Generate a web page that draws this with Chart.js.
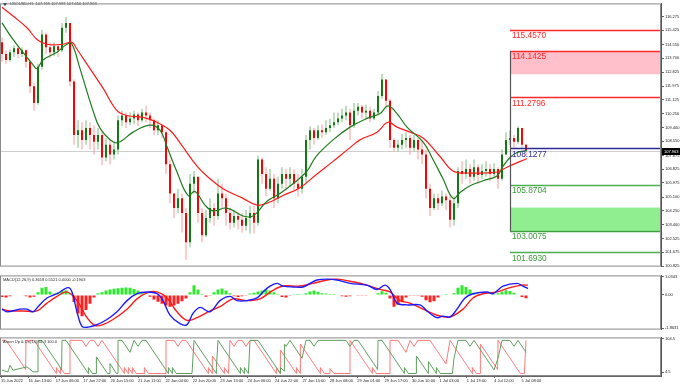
<!DOCTYPE html>
<html>
<head>
<meta charset="utf-8">
<script src="https://cdn.jsdelivr.net/npm/chart.js@4/dist/chart.umd.min.js"></script>
<style>
body { margin: 0; background: #fff; width: 680px; height: 385px; overflow: hidden; position: relative; }
.pane { position: absolute; left: 0; width: 680px; }
</style>
</head>
<body>
<div class="pane" style="top:0;height:270px"><canvas id="main"></canvas></div>
<div class="pane" style="top:272px;height:61px"><canvas id="macd"></canvas></div>
<div class="pane" style="top:334px;height:51px"><canvas id="aroon"></canvas></div>
<script>
// ---- price bars (H1, one entry per drawn bar) ----
const firstOpen = 114.68;
const closes = [
  113.95, 113.59, 114.07, 114.31, 113.95, 114.19, 113.47, 111.96, 110.93, 113.17,
  115.16, 114.37, 114.07, 114.43, 114.19, 115.58, 115.88, 112.26, 108.94, 109.24,
  108.64, 109.37, 108.94, 108.52, 108.94, 107.55, 108.34, 107.74, 108.04, 109.85,
  110.15, 109.73, 109.97, 110.21, 109.85, 110.33, 110.15, 109.85, 109.24, 109.55,
  109.12, 107.13, 105.32, 104.42, 105.02, 104.11, 102.30, 105.92, 106.35, 104.11,
  102.73, 103.81, 104.42, 103.93, 105.32, 105.02, 104.11, 103.51, 103.93, 103.69,
  103.33, 103.81, 104.11, 103.51, 107.43, 106.53, 105.62, 106.23, 105.02, 105.92,
  106.53, 106.23, 106.53, 105.92, 105.62, 106.35, 108.64, 109.24, 108.76, 109.24,
  109.12, 109.37, 109.55, 109.73, 109.97, 110.15, 110.33, 109.55, 110.45, 110.69,
  110.33, 110.45, 109.97, 110.33, 111.36, 112.38, 111.06, 108.64, 108.16, 108.34,
  108.64, 108.76, 108.16, 108.64, 108.04, 107.74, 105.62, 104.42, 105.02, 104.72,
  105.14, 104.90, 103.69, 104.72, 106.71, 106.53, 106.83, 106.35, 106.95, 106.47,
  106.71, 106.83, 106.53, 106.83, 106.23, 107.74, 108.64, 108.76, 108.52, 109.37,
  108.34, 107.963
];
const highs = [
  114.98, 114.19, 114.25, 114.50, 114.43, 114.37, 114.25, 113.59, 112.14, 113.35,
  115.46, 115.28, 114.68, 114.68, 114.56, 115.88, 116.25, 115.88, 112.38, 109.85,
  109.73, 109.85, 109.73, 109.55, 109.37, 109.12, 108.76, 108.64, 108.52, 110.15,
  110.45, 110.33, 110.33, 110.45, 110.33, 110.57, 110.75, 110.33, 109.97, 109.85,
  109.61, 109.24, 107.43, 105.32, 105.62, 105.32, 104.42, 106.53, 106.71, 106.23,
  104.42, 104.30, 105.02, 104.72, 106.23, 105.92, 105.32, 104.42, 104.30, 104.17,
  104.11, 104.30, 104.54, 104.54, 107.68, 107.55, 106.95, 106.83, 106.53, 106.35,
  106.95, 106.83, 106.95, 106.83, 106.53, 106.83, 108.94, 109.49, 109.37, 109.55,
  109.61, 109.85, 109.97, 110.33, 110.33, 110.57, 110.75, 110.57, 110.93, 110.93,
  110.81, 110.81, 110.69, 110.57, 111.66, 112.74, 112.38, 111.18, 108.76, 108.64,
  109.00, 109.12, 108.94, 108.94, 108.76, 108.64, 108.04, 105.92, 105.32, 105.32,
  105.50, 105.32, 105.14, 105.14, 106.95, 107.31, 107.43, 107.13, 107.43, 107.13,
  107.13, 107.31, 107.13, 107.19, 106.95, 108.04, 109.12, 109.24, 108.94, 109.49,
  109.37, 108.40
];
const lows = [
  113.47, 113.35, 113.47, 113.77, 113.71, 113.77, 113.11, 111.54, 110.45, 110.81,
  112.99, 113.95, 113.71, 113.83, 113.77, 114.07, 115.28, 111.96, 108.34, 108.16,
  108.04, 108.34, 108.04, 107.74, 108.04, 107.07, 107.31, 107.13, 107.43, 107.74,
  109.49, 109.37, 109.55, 109.61, 109.49, 109.73, 109.73, 109.37, 108.94, 108.94,
  108.76, 106.53, 104.72, 103.81, 104.11, 102.91, 101.22, 102.00, 105.32, 103.51,
  102.30, 102.61, 103.51, 103.33, 103.69, 104.42, 103.33, 103.09, 103.21, 103.09,
  102.91, 103.03, 102.85, 102.85, 103.33, 105.92, 105.14, 105.50, 104.42, 104.72,
  105.62, 105.50, 105.74, 105.50, 105.14, 105.32, 105.92, 108.04, 108.34, 108.64,
  108.76, 108.94, 109.12, 109.37, 109.55, 109.73, 109.85, 108.64, 109.37, 110.15,
  109.97, 109.97, 109.73, 109.85, 110.15, 111.18, 110.57, 108.16, 107.92, 107.92,
  108.04, 108.16, 107.74, 107.92, 107.43, 107.13, 105.02, 103.93, 104.30, 104.30,
  104.54, 104.30, 103.21, 103.33, 104.42, 105.92, 106.23, 105.92, 106.11, 105.92,
  106.23, 106.35, 106.11, 106.35, 105.62, 106.11, 107.70, 108.34, 108.16, 108.40,
  108.16, 107.65
];

// moving averages (bar position, price)
const maFastBars = [0, 2.75, 7.75, 8.75, 10.25, 13.75, 16.25, 17.5, 19.5, 22.75, 24.5, 27.75, 29.5, 32.75, 37, 39.5, 41.25, 43.75, 46.5, 48.25, 50.75, 52.75, 56.25, 60.25, 62.75, 66.25, 69.5, 72.75, 76.25, 78.5, 82.75, 87, 91.25, 94.5, 96.5, 98.75, 101.25, 105.25, 107.75, 110.25, 112.75, 114.5, 117, 120.25, 123.75, 125.25, 127, 128.75, 131.25];
const maFast = [115.88, 114.86, 113.29, 113.05, 113.59, 114.07, 114.56, 114.56, 113.05, 110.45, 109.37, 108.52, 108.52, 109.12, 109.55, 109.24, 108.22, 106.65, 105.20, 105.44, 104.60, 104.24, 104.42, 103.93, 103.93, 104.84, 105.32, 105.92, 106.71, 107.61, 108.64, 109.43, 109.97, 110.27, 110.75, 110.27, 109.43, 108.52, 107.43, 106.23, 105.02, 105.38, 105.80, 106.11, 106.41, 107.01, 107.55, 107.86, 107.98];
const maSlowBars = [0, 2.75, 6.25, 8.75, 11.25, 15.25, 17.5, 18.75, 22, 25.25, 28.75, 31.25, 35.25, 38.75, 42, 44.5, 48.75, 52, 55.25, 60.25, 63.75, 66.25, 70.25, 74.5, 78.75, 82.75, 87, 89.5, 93.75, 96.5, 98.75, 102, 105.25, 109.5, 112.75, 116.25, 123.75, 126.25, 131.25];
const maSlow = [116.85, 116.31, 115.58, 114.86, 114.56, 114.56, 114.68, 114.25, 113.05, 111.84, 110.45, 110.15, 110.03, 109.73, 109.24, 108.46, 107.01, 106.23, 105.62, 105.02, 104.60, 104.72, 105.20, 105.68, 106.53, 107.31, 108.16, 108.64, 109.12, 109.73, 109.43, 109.12, 108.76, 107.61, 106.71, 106.59, 106.65, 106.95, 107.49];

// drawn levels and zones
const levelPrices = [115.4570, 114.1425, 111.2796, 108.1277, 105.8704, 103.0075, 101.6930];
const pinkZone = [114.1425, 112.70];
const greenZone = [104.45, 103.0075];
const levelStartBar = 127;
const lastQuote = [107.769, 107.987, 107.650, 107.963];
const priceTicks = [116.275, 115.425, 114.550, 113.700, 112.825, 111.975, 111.125, 110.250, 109.400, 108.550, 107.675, 106.825, 105.975, 105.100, 104.250, 103.400, 102.525, 101.675, 100.825];

// MACD(12,26,9)
const macdHist = [
  -0.12, -0.15, -0.08, -0.03, 0.02, -0.03, -0.08, -0.15, -0.10, 0.15,
  0.40, 0.45, 0.20, 0.08, 0.12, 0.22, 0.26, 0.10, -0.40, -1.05,
  -1.20, -0.85, -0.50, -0.15, 0.10, 0.15, 0.25, 0.30, 0.35, 0.38,
  0.40, 0.42, 0.40, 0.33, 0.25, 0.10, 0.02, -0.10, -0.25, -0.38,
  -0.50, -0.60, -0.66, -0.60, -0.50, -0.35, -0.20, 0.15, 0.55, 0.30,
  0.05, -0.10, -0.05, 0.15, 0.30, 0.36, 0.25, 0.10, -0.08, -0.12,
  -0.08, -0.02, 0.08, 0.12, 0.20, 0.25, 0.30, 0.25, 0.15, 0.05,
  -0.12, -0.15, -0.05, 0.04, 0.05, 0.04, 0.10, 0.20, 0.25, 0.18,
  0.10, 0.08, 0.05, 0.05, 0.03, -0.08, -0.10, -0.08, -0.03, -0.04,
  -0.05, -0.04, -0.03, 0.02, 0.10, 0.21, 0.12, -0.20, -0.66, -0.55,
  -0.35, -0.15, -0.05, -0.05, -0.04, -0.10, -0.30, -0.41, -0.35, -0.15,
  0.03, 0.05, 0.03, 0.10, 0.40, 0.55, 0.45, 0.30, 0.12, 0.05,
  0.03, -0.03, 0.02, 0.05, 0.10, 0.18, 0.26, 0.22, 0.12, 0.03,
  -0.12, -0.19
];
const macdBars = [0, 1.25, 4.5, 6.25, 7.75, 9, 11.25, 13.75, 16.5, 17.5, 18.75, 20, 21.5, 23.75, 26.25, 28.75, 31.25, 33.75, 36.25, 38.75, 40.25, 42, 44.5, 46.25, 47.75, 49.5, 52, 54.5, 57, 58.75, 61.25, 63.75, 65.25, 67, 68.75, 70.25, 72.75, 75.25, 77, 78.75, 81.25, 83.75, 87, 91.25, 93.75, 95.75, 97, 98.75, 101.25, 104.5, 106.25, 108.75, 110.25, 112, 113.75, 115.75, 117.75, 121.25, 122.75, 125.25, 128.75, 130.25, 131.5];
const macdMain = [-0.80, -0.95, -0.80, -0.80, -0.95, -0.66, -0.17, 0.07, 0.41, 0.17, -0.95, -1.77, -1.81, -1.67, -1.38, -0.95, -0.32, 0.07, 0.17, 0.07, -0.32, -1.14, -1.62, -1.67, -1.04, -0.70, -0.95, -0.32, -0.08, -0.32, -0.32, -0.17, 0.17, 0.50, 0.65, 0.50, 0.45, 0.45, 0.65, 0.84, 0.89, 0.84, 0.65, 0.55, 0.31, 0.55, 0.31, -0.46, -0.56, -0.56, -0.90, -1.28, -1.19, -1.24, -0.80, -0.17, 0.07, 0.17, 0.07, 0.50, 0.65, 0.50, 0.36];
const signalBars = [0, 2, 5.25, 8.75, 11.25, 13.75, 16.25, 18.75, 21.25, 23.25, 25.25, 27.75, 31.25, 33.75, 36.25, 38.75, 41.25, 43.75, 46.25, 48.75, 52, 54.5, 57.75, 61.25, 64.5, 67.75, 70.25, 74.5, 77.75, 81.25, 83.75, 87.75, 92, 94.5, 97, 99.5, 102, 105.25, 108.75, 112, 115.25, 117.75, 120.25, 123.75, 127, 130, 131.5];
const macdSignal = [-0.80, -0.90, -0.90, -0.90, -0.46, -0.08, 0.17, -0.32, -1.28, -1.72, -1.67, -1.38, -0.80, -0.22, 0.12, 0.17, -0.17, -0.95, -1.43, -1.28, -0.90, -0.66, -0.22, -0.32, -0.22, 0.26, 0.50, 0.50, 0.65, 0.84, 0.89, 0.74, 0.50, 0.31, 0.17, -0.32, -0.46, -0.80, -1.14, -1.24, -0.80, -0.17, 0.07, 0.17, 0.41, 0.55, 0.55];

// Aroon(14) up / down, corner points
const aroonUpBars = [0, 1.5, 2, 2.75, 4.5, 6.25, 7.75, 9, 9, 10, 14, 14.9, 15, 16, 21.6, 21.6, 22.6, 23.6, 23.6, 26.4, 27, 27, 28.6, 29, 29, 30, 32, 33, 34, 35, 36, 41.6, 41.6, 42.6, 42.6, 43.6, 47.5, 48, 53.6, 53.6, 54, 59.6, 59.6, 60.6, 60.6, 61.6, 62, 64, 69.6, 69.6, 70.6, 70.6, 71, 72, 75, 76, 77, 78, 79, 86, 87, 88, 89, 93, 93.9, 94, 95, 100.6, 100.6, 101.6, 103.6, 103.6, 106.6, 106.6, 108.6, 108.6, 109.6, 112.6, 113, 114, 116, 117, 118, 123, 124, 125, 127, 128, 129, 131];
const aroonUp = [10, 5, 25, 10, 15, 20, 5, 5, 100, 100, 29, 12, 100, 100, 0, 18, 0, 0, 50, 0, 0, 30, 0, 0, 100, 100, 64, 100, 82, 100, 100, 0, 18, 0, 18, 0, 0, 100, 0, 18, 100, 0, 18, 0, 18, 0, 100, 100, 0, 18, 7, 89, 82, 100, 46, 100, 100, 82, 100, 100, 82, 100, 100, 29, 12, 100, 100, 0, 18, 0, 0, 53, 0, 36, 0, 18, 0, 0, 46, 100, 100, 82, 100, 11, 46, 100, 100, 82, 100, 64];
const aroonDnBars = [0, 1, 5, 5.9, 6, 8, 13.6, 13.6, 14.6, 14.6, 15.6, 17, 17, 20, 21, 22, 23, 24, 25, 30.6, 30.6, 31.6, 31.6, 32.6, 32.6, 33.6, 35.6, 35.6, 36.6, 41, 41, 43, 44, 45, 46, 51.6, 51.6, 52.6, 52.6, 55.6, 55.6, 56.6, 57, 58, 59, 60, 61, 62, 63, 68.6, 68.6, 69.6, 69.6, 73.6, 73.6, 74.6, 74.6, 79.6, 79.6, 80.6, 82, 82, 83, 87, 87, 92.6, 92.6, 93.6, 97, 97, 99, 100, 101, 102, 103, 104, 107, 108, 111, 112, 117.6, 117.6, 118.6, 119.6, 119.6, 123.9, 124, 129.6, 130.6, 131];
const aroonDn = [100, 100, 29, 12, 100, 100, 0, 18, 0, 18, 0, 0, 100, 100, 82, 100, 100, 82, 100, 0, 18, 0, 18, 0, 18, 0, 0, 18, 0, 0, 100, 100, 82, 100, 100, 0, 18, 0, 53, 0, 18, 0, 100, 82, 100, 100, 82, 100, 100, 0, 18, 0, 71, 0, 18, 0, 89, 0, 18, 0, 0, 15, 0, 0, 100, 0, 18, 0, 0, 100, 100, 82, 64, 100, 82, 100, 100, 82, 29, 100, 0, 18, 0, 0, 89, 12, 100, 0, 0, 100];

// time axis
const xLabels = ['15 Jun 2022', '16 Jun 13:00', '17 Jun 06:00', '17 Jun 22:00', '20 Jun 15:00', '21 Jun 11:00', '22 Jun 04:00', '22 Jun 20:00', '23 Jun 13:00', '24 Jun 06:00', '24 Jun 22:00', '27 Jun 15:00', '28 Jun 08:00', '29 Jun 01:00', '29 Jun 17:00', '30 Jun 10:00', '1 Jul 03:00', '1 Jul 19:00', '4 Jul 12:00', '5 Jul 08:00'];
const xLabelBars = [-0.25, 6.6, 13.45, 20.3, 27.15, 34, 40.85, 47.7, 54.55, 61.4, 68.25, 75.1, 81.95, 88.8, 95.65, 102.5, 109.35, 116.2, 123.05, 129.9];

// ---- styles ----
const FONT = '"Liberation Sans", Arial, sans-serif';
const SMALL = 4;
const levelColors = ['#ff2a2a', '#ff2a2a', '#ff2a2a', '#2b2b99', '#4caf50', '#3f9f3f', '#4caf50'];
const levelTextColors = ['#ff2626', '#ff2626', '#ff2626', '#2b2b99', '#3a9a3a', '#3a9a3a', '#3a9a3a'];
const X_MIN = -0.5, X_MAX = 164.75;

Chart.defaults.font.family = FONT;

const opens = closes.map((c, i) => i === 0 ? firstOpen : closes[i - 1]);
const pts = (xs, ys) => xs.map((x, i) => ({x: x, y: ys[i]}));

function xAxis(show) {
  const ax = {
    type: 'linear', min: X_MIN, max: X_MAX, offset: false, display: show,
    grid: {display: false}
  };
  if (show) {
    ax.afterFit = s => { s.height = 9; };
    ax.afterBuildTicks = s => { s.ticks = xLabelBars.map(v => ({value: v})); };
    ax.grid = {display: true, drawOnChartArea: false, drawTicks: true, tickLength: 2, color: '#666'};
    ax.border = {display: true, color: '#666'};
    ax.ticks = {autoSkip: false, maxRotation: 0, minRotation: 0, align: 'start', padding: 0,
      font: {size: SMALL}, color: '#222', callback: (v, i) => xLabels[i]};
  }
  return ax;
}

function yAxis(min, max, ticks, fmt) {
  return {
    position: 'right', min: min, max: max,
    afterFit: s => { s.width = 19; },
    afterBuildTicks: s => { s.ticks = ticks.map(v => ({value: v})); },
    grid: {drawOnChartArea: false, drawTicks: true, tickLength: 3, color: '#666'},
    border: {display: true, color: '#555'},
    ticks: {autoSkip: false, padding: 1, font: {size: SMALL}, color: '#222', callback: v => fmt(v)}
  };
}

const panelFrame = {
  id: 'panelFrame',
  afterDraw(chart, args, opts) {
    const {ctx, chartArea: a} = chart;
    ctx.save();
    ctx.strokeStyle = '#8a8a8a';
    ctx.lineWidth = 1;
    ctx.strokeRect(a.left + 0.5, a.top + 0.5, a.right - a.left - 1, a.bottom - a.top - 1);
    if (opts.title) {
      ctx.fillStyle = '#2a2a2a';
      ctx.font = SMALL + 'px ' + FONT;
      ctx.textBaseline = 'top';
      ctx.fillText(opts.title, a.left + opts.titleX, a.top + 2);
    }
    ctx.restore();
  }
};

const levelsPlugin = {
  id: 'levels',
  beforeDatasetsDraw(chart) {
    const {ctx, chartArea: a, scales: {x, y}} = chart;
    const x0 = Math.round(x.getPixelForValue(levelStartBar));
    ctx.save();
    // current price line
    const yq = Math.round(y.getPixelForValue(lastQuote[3])) + 0.5;
    ctx.strokeStyle = '#cfcfcf';
    ctx.lineWidth = 1;
    ctx.beginPath(); ctx.moveTo(a.left, yq); ctx.lineTo(a.right, yq); ctx.stroke();
    // zones
    ctx.fillStyle = '#ffc0cb';
    let t = y.getPixelForValue(pinkZone[0]), b = y.getPixelForValue(pinkZone[1]);
    ctx.fillRect(x0, t, a.right - x0, b - t);
    ctx.fillStyle = '#90ee90';
    t = y.getPixelForValue(greenZone[0]); b = y.getPixelForValue(greenZone[1]);
    ctx.fillRect(x0, t, a.right - x0, b - t);
    ctx.restore();
  },
  afterDatasetsDraw(chart) {
    const {ctx, chartArea: a, scales: {x, y}} = chart;
    const x0 = Math.round(x.getPixelForValue(levelStartBar));
    ctx.save();
    ctx.lineWidth = 1.3;
    levelPrices.forEach((p, i) => {
      const py = Math.round(y.getPixelForValue(p)) + 0.5;
      ctx.strokeStyle = levelColors[i];
      ctx.beginPath(); ctx.moveTo(x0, py); ctx.lineTo(a.right, py); ctx.stroke();
    });
    // vertical anchor line
    ctx.strokeStyle = '#555';
    ctx.lineWidth = 1.2;
    ctx.beginPath();
    ctx.moveTo(x0 + 0.5, y.getPixelForValue(pinkZone[0]));
    ctx.lineTo(x0 + 0.5, y.getPixelForValue(greenZone[1]));
    ctx.stroke();
    // level labels
    ctx.font = '8.3px ' + FONT;
    ctx.textBaseline = 'top';
    levelPrices.forEach((p, i) => {
      ctx.fillStyle = levelTextColors[i];
      ctx.fillText(p.toFixed(4), x0 + 2, y.getPixelForValue(p) + 2);
    });
    ctx.restore();
  },
  afterDraw(chart) {
    const {ctx, chartArea: a, scales: {y}} = chart;
    ctx.save();
    // current price tag
    const yq = Math.round(y.getPixelForValue(lastQuote[3]));
    ctx.fillStyle = '#000';
    ctx.fillRect(a.right + 1, yq - 3, 18, 7);
    ctx.fillStyle = '#fff';
    ctx.font = SMALL + 'px ' + FONT;
    ctx.textBaseline = 'middle';
    ctx.fillText(lastQuote[3].toFixed(3), a.right + 3, yq + 0.5);
    // symbol header
    ctx.fillStyle = '#000';
    ctx.beginPath(); ctx.moveTo(3, 3); ctx.lineTo(7, 3); ctx.lineTo(5, 6); ctx.closePath(); ctx.fill();
    ctx.fillStyle = '#2a2a2a';
    ctx.textBaseline = 'top';
    ctx.fillText('USOUSD,H1  ' + lastQuote.map(v => v.toFixed(3)).join(' '), 10, 2);
    ctx.restore();
  }
};

function common(scales, plugins) {
  return {
    responsive: true, maintainAspectRatio: false, animation: false, events: [],
    layout: {padding: 0},
    scales: scales,
    plugins: Object.assign({legend: {display: false}, tooltip: {enabled: false}}, plugins)
  };
}

// main price pane
new Chart(document.getElementById('main'), {
  type: 'bar',
  data: {
    datasets: [
      {
        type: 'line', order: 0, data: pts(maFastBars, maFast),
        borderColor: '#1f7a1f', borderWidth: 1.2, pointRadius: 0, tension: 0.4
      },
      {
        type: 'line', order: 0, data: pts(maSlowBars, maSlow),
        borderColor: '#ff1a1a', borderWidth: 1.2, pointRadius: 0, tension: 0.4
      },
      {
        order: 1, grouped: false, barThickness: 2, inflateAmount: 0, minBarLength: 1,
        data: closes.map((c, i) => ({x: i, y: [opens[i], c]})),
        backgroundColor: closes.map((c, i) => c >= opens[i] ? '#137a13' : '#ff0000')
      },
      {
        order: 2, grouped: false, barThickness: 1, inflateAmount: 0,
        data: closes.map((c, i) => ({x: i, y: [lows[i], highs[i]]})),
        backgroundColor: closes.map((c, i) => c >= opens[i] ? '#7fbf7f' : '#ff9a9a')
      }
    ]
  },
  options: common({
    x: xAxis(false),
    y: yAxis(100.795, 117.09, priceTicks, v => v.toFixed(3))
  }, {panelFrame: {title: '', titleX: 3}}),
  plugins: [levelsPlugin, panelFrame]
});

// MACD pane
new Chart(document.getElementById('macd'), {
  type: 'bar',
  data: {
    datasets: [
      {
        type: 'line', order: 0, data: pts(macdBars, macdMain),
        borderColor: '#1a1aff', borderWidth: 1.4, pointRadius: 0, tension: 0.35
      },
      {
        type: 'line', order: 0, data: pts(signalBars, macdSignal),
        borderColor: '#ff1a1a', borderWidth: 1.4, pointRadius: 0, tension: 0.35
      },
      {
        order: 1, grouped: false, barThickness: 3, inflateAmount: 0,
        data: macdHist.map((v, i) => ({x: i, y: v})),
        backgroundColor: macdHist.map(v => v >= 0 ? '#2ee82e' : '#ff2020')
      }
    ]
  },
  options: common({
    x: xAxis(false),
    y: yAxis(-1.95, 1.10, [1.0343, 0, -1.8631], v => v === 0 ? '0.00' : v.toFixed(4))
  }, {panelFrame: {title: 'MACD(12,26,9) 0.3618 0.5521 0.0000 -0.1903', titleX: 3}}),
  plugins: [panelFrame]
});

// Aroon pane
new Chart(document.getElementById('aroon'), {
  type: 'line',
  data: {
    datasets: [
      {data: pts(aroonUpBars, aroonUp), borderColor: '#5f9f5f', borderWidth: 1, pointRadius: 0, tension: 0},
      {data: pts(aroonDnBars, aroonDn), borderColor: '#ff7a7a', borderWidth: 1, pointRadius: 0, tension: 0}
    ]
  },
  options: common({
    x: xAxis(true),
    y: yAxis(-7.5, 109, [104.5, 4.5], v => v.toFixed(1))
  }, {panelFrame: {title: 'Aroon Up & Dn(14) 64.3 100.0', titleX: 3}}),
  plugins: [panelFrame]
});
</script>
</body>
</html>
